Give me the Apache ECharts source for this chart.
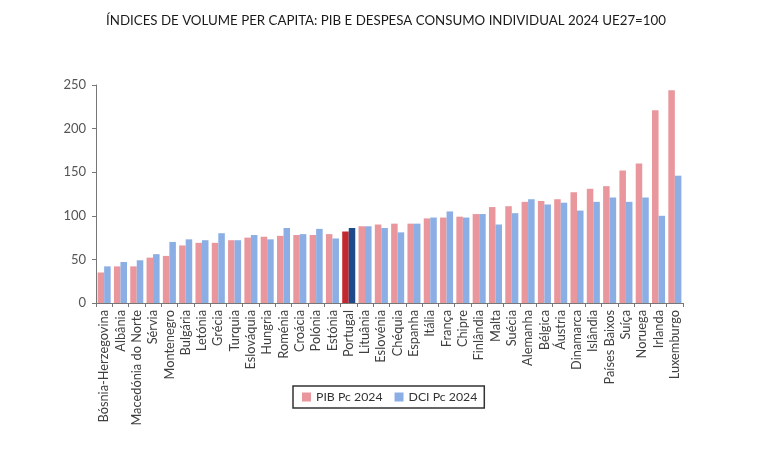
<!DOCTYPE html>
<html>
<head>
<meta charset="utf-8">
<script src="https://cdn.jsdelivr.net/npm/echarts@6/dist/echarts.min.js"></script>
<style>
  html, body { margin: 0; padding: 0; background: #fff; }
  #chart { width: 768px; height: 455px; }
</style>
</head>
<body>
<div id="chart"></div>
<script>
// data
var countries = ['Bósnia-Herzegovina', 'Albânia', 'Macedónia do Norte', 'Sérvia', 'Montenegro', 'Bulgária', 'Letónia', 'Grécia', 'Turquia', 'Eslováquia', 'Hungria', 'Roménia', 'Croácia', 'Polónia', 'Estónia', 'Portugal', 'Lituânia', 'Eslovénia', 'Chéquia', 'Espanha', 'Itália', 'França', 'Chipre', 'Finlândia', 'Malta', 'Suécia', 'Alemanha', 'Bélgica', 'Áustria', 'Dinamarca', 'Islândia', 'Países Baixos', 'Suíça', 'Noruega', 'Irlanda', 'Luxemburgo'];
var pib2024 = [35, 42, 42, 52, 54, 66, 69, 69, 72, 75, 76, 77, 78, 78, 79, 82, 88, 90, 91, 91, 97, 98, 99, 102, 110, 111, 116, 117, 119, 127, 131, 134, 152, 160, 221, 244];
var dci2024 = [42, 47, 49, 56, 70, 73, 72, 80, 72, 78, 73, 86, 79, 85, 74, 86, 88, 86, 81, 91, 98, 105, 98, 102, 90, 103, 119, 113, 115, 106, 116, 121, 116, 121, 100, 146];
var yTicks = [0, 50, 100, 150, 200, 250];
var highlight = 'Portugal';

var fontName = 'Lato, "Open Sans", sans-serif';
var pink = '#E9979D';
var blue = '#8BAEE4';

// Portugal gets the darker colours
function makeData(values, special) {
    return values.map(function (v, i) {
        if (countries[i] === highlight) {
            return { value: v, itemStyle: { color: special } };
        }
        return v;
    });
}

var mychart = echarts.init(document.getElementById('chart'));
var option = {
    animation: false,
    textStyle: { fontFamily: fontName },
    title: {
        text: 'ÍNDICES DE VOLUME PER CAPITA: PIB E DESPESA CONSUMO INDIVIDUAL 2024 UE27=100',
        left: 381,
        top: 9,
        textAlign: 'center',
        textStyle: { fontFamily: fontName, fontSize: 13.3, fontWeight: 'normal', color: '#1a1a1a' }
    },
    legend: {
        left: 293,
        top: 386,
        orient: 'horizontal',
        icon: 'rect',
        itemWidth: 9,
        itemHeight: 9,
        itemGap: 12,
        padding: [5, 7, 5, 9],
        borderColor: '#333',
        borderWidth: 1.5,
        textStyle: { fontFamily: fontName, fontSize: 12.3, color: '#333' },
        data: ['PIB Pc 2024', 'DCI Pc 2024']
    },
    grid: {
        left: 96,
        right: 85,
        top: 85,
        bottom: 152
    },
    xAxis: {
        type: 'category',
        data: countries,
        axisLine: { lineStyle: { color: '#777', width: 1 } },
        axisTick: { show: true, length: 4, lineStyle: { color: '#777' } },
        axisLabel: {
            rotate: 90,
            interval: 0,
            margin: 7,
            fontFamily: fontName,
            fontSize: 12.8,
            color: '#404040'
        }
    },
    yAxis: {
        type: 'value',
        min: yTicks[0],
        max: yTicks[yTicks.length - 1],
        interval: yTicks[1] - yTicks[0],
        splitLine: { show: false },
        axisLine: { show: true, lineStyle: { color: '#777', width: 1 } },
        axisTick: { show: true, length: 4, lineStyle: { color: '#777' } },
        axisLabel: { fontFamily: fontName, fontSize: 13, color: '#555', margin: 10 }
    },
    series: [
        {
            name: 'PIB Pc 2024',
            type: 'bar',
            barGap: '0%',
            barCategoryGap: '20%',
            itemStyle: { color: pink },
            data: makeData(pib2024, '#C3282E')
        },
        {
            name: 'DCI Pc 2024',
            type: 'bar',
            barGap: '0%',
            barCategoryGap: '20%',
            itemStyle: { color: blue },
            data: makeData(dci2024, '#1F4A8A')
        }
    ]
};
mychart.setOption(option);
</script>
</body>
</html>
